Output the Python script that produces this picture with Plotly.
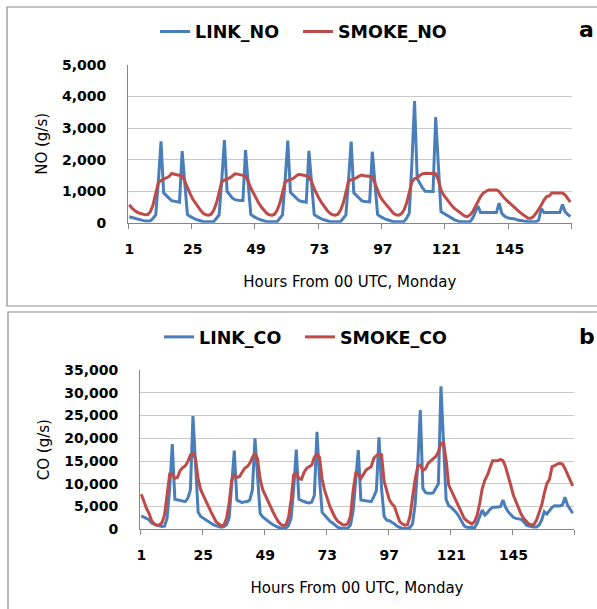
import plotly.graph_objects as go

# hours 1..168 (x categories)
HOURS = list(range(1, 169))
X_TICK_VALS = [1, 25, 49, 73, 97, 121, 145]
X_TICK_TEXT = ["1", "25", "49", "73", "97", "121", "145"]

LINK_NO = [
    190, 165, 140, 120, 85, 60, 50, 50, 60, 140, 250, 1300, 2580, 950, 850, 780, 700, 680, 660, 650, 2270, 1250, 260, 200,
    150, 110, 85, 50, 30, 30, 30, 30, 40, 140, 250, 1350, 2620, 1000, 890, 780, 730, 710, 700, 700, 2300, 1250, 260, 200,
    150, 110, 85, 50, 30, 30, 30, 30, 40, 140, 250, 1350, 2600, 960, 880, 780, 720, 680, 660, 650, 2280, 1250, 260, 200,
    150, 110, 85, 50, 30, 30, 30, 30, 40, 140, 250, 1350, 2570, 950, 860, 770, 700, 670, 660, 660, 2250, 1250, 260, 200,
    150, 110, 85, 50, 30, 30, 30, 30, 40, 140, 300, 1900, 3860, 1400, 1250, 1100, 1000, 990, 990, 990, 3350, 1800, 350, 300,
    245, 190, 140, 100, 65, 30, 30, 30, 30, 30, 140, 330, 530, 320, 320, 320, 320, 320, 320, 320, 620, 300, 210, 160,
    140, 140, 120, 85, 70, 55, 30, 30, 30, 30, 30, 85, 450, 320, 320, 320, 320, 320, 320, 320, 580, 350, 260, 190,
]

SMOKE_NO = [
    570, 460, 390, 330, 300, 270, 250, 260, 355, 570, 890, 1270, 1340, 1380, 1400, 1460, 1560, 1540, 1520, 1500, 1480, 1320, 1100, 925,
    750, 620, 495, 390, 300, 250, 240, 270, 400, 620, 950, 1290, 1350, 1380, 1420, 1480, 1550, 1540, 1530, 1500, 1470, 1320, 1100, 925,
    750, 620, 495, 390, 300, 250, 240, 270, 400, 620, 950, 1290, 1340, 1370, 1400, 1470, 1530, 1520, 1510, 1490, 1460, 1300, 1080, 900,
    740, 610, 490, 380, 300, 250, 240, 270, 400, 620, 950, 1320, 1360, 1390, 1420, 1480, 1510, 1490, 1480, 1480, 1460, 1250, 1000, 825,
    700, 600, 480, 380, 300, 250, 240, 280, 400, 620, 1000, 1300, 1400, 1420, 1500, 1550, 1570, 1570, 1560, 1550, 1550, 1360, 1040, 880,
    760, 640, 550, 460, 390, 320, 260, 210, 190, 245, 350, 510, 720, 830, 940, 990, 1040, 1040, 1040, 1040, 990, 880, 780, 700,
    620, 540, 460, 390, 320, 260, 210, 140, 140, 190, 300, 425, 560, 720, 830, 850, 950, 940, 940, 950, 940, 880, 745, 650,
]

LINK_CO = [
    2930, 2700, 2450, 2100, 1400, 1100, 900, 750, 600, 700, 2500, 9000, 18700, 6600, 6440, 6300, 6150, 6080, 6800, 8640, 24900, 14000, 3800, 2800,
    2400, 2000, 1680, 1300, 950, 750, 590, 440, 590, 1000, 2500, 9500, 17300, 6440, 6080, 5860, 6080, 6080, 6440, 8640, 20000, 11000, 3500, 2700,
    2200, 1800, 1400, 1000, 700, 450, 300, 250, 300, 800, 2500, 9000, 17500, 6600, 6300, 6100, 5900, 5800, 6000, 7500, 21400, 11000, 3700, 3000,
    2300, 1800, 1400, 900, 450, 300, 200, 200, 300, 1000, 4000, 10000, 17400, 6440, 6350, 6290, 6200, 6070, 7170, 8500, 20200, 9000, 2800, 2000,
    1900, 1600, 1200, 700, 400, 200, 200, 200, 400, 1200, 5500, 14000, 26200, 9000, 8100, 7900, 7900, 8000, 9000, 10000, 31400, 18000, 6500, 5200,
    4820, 4240, 3650, 2770, 1680, 725, 430, 360, 360, 360, 1310, 2770, 4240, 3140, 3650, 4380, 4820, 4820, 4820, 4970, 6430, 4820, 3870, 3140,
    2630, 2400, 2260, 2190, 1680, 940, 725, 580, 500, 500, 940, 2040, 3870, 3360, 4240, 4820, 5190, 5190, 5120, 5340, 7020, 5340, 4380, 3510,
]

SMOKE_CO = [
    7690, 6080, 4610, 3510, 1900, 1170, 880, 950, 1460, 3150, 7170, 12150, 12150, 11200, 11420, 12880, 13540, 13900, 14860, 16320, 16700, 15500, 11000, 8700,
    7470, 6370, 5050, 3810, 2710, 1610, 1170, 730, 950, 2420, 5710, 10830, 11930, 11420, 11570, 12660, 13400, 13760, 14490, 15810, 16690, 15500, 11000, 8700,
    7400, 6200, 5000, 3800, 2700, 1700, 1100, 800, 1000, 2600, 6500, 12000, 12300, 11200, 11000, 12500, 13400, 13700, 14100, 15900, 16500, 15800, 11000, 8500,
    6500, 5000, 3800, 2600, 1800, 1300, 1000, 950, 1300, 3000, 8500, 12300, 12100, 11200, 12000, 13000, 13400, 13760, 15600, 16200, 16540, 16400, 10500, 8500,
    6500, 5600, 5000, 3300, 1700, 1200, 900, 1000, 2800, 7000, 11000, 13800, 14100, 12900, 13300, 14500, 15000, 15500, 16000, 17000, 18900, 19000, 15200, 9700,
    8630, 7310, 6070, 4820, 3510, 2400, 1890, 1460, 1160, 1680, 3140, 5700, 9000, 10820, 11920, 13500, 15070, 15070, 15070, 15360, 15070, 13750, 11930, 9730,
    7530, 6070, 4600, 3360, 2400, 1680, 1160, 940, 1090, 2040, 3510, 5340, 7900, 10100, 10970, 13750, 13970, 14340, 14490, 14340, 13390, 11930, 10820, 9510,
]

BLUE = "#4a7ebb"
RED = "#be4b48"
W, H = 597, 609
FONT = "DejaVu Sans"


def px(x):
    return x / W


def py(y):
    return 1 - y / H


fig = go.Figure()
fig.add_trace(go.Scatter(x=HOURS, y=LINK_NO, name="LINK_NO", mode="lines",
                         line=dict(color=BLUE, width=3), xaxis="x", yaxis="y", legend="legend"))
fig.add_trace(go.Scatter(x=HOURS, y=SMOKE_NO, name="SMOKE_NO", mode="lines",
                         line=dict(color=RED, width=3), xaxis="x", yaxis="y", legend="legend2"))
fig.add_trace(go.Scatter(x=HOURS, y=LINK_CO, name="LINK_CO", mode="lines",
                         line=dict(color=BLUE, width=3), xaxis="x2", yaxis="y2", legend="legend3"))
fig.add_trace(go.Scatter(x=HOURS, y=SMOKE_CO, name="SMOKE_CO", mode="lines",
                         line=dict(color=RED, width=3), xaxis="x2", yaxis="y2", legend="legend4"))

tickfont = dict(family=FONT, size=14, color="#000000", weight="bold")
titlefont = dict(family=FONT, size=15, color="#000000")
legfont = dict(family=FONT, size=17.5, color="#000000", weight="bold")

xcommon = dict(
    range=[0.5, 168.5], tickmode="array", tickvals=X_TICK_VALS, ticktext=X_TICK_TEXT,
    ticks="", showline=True, linecolor="#868686", linewidth=1, showgrid=False,
    zeroline=False, tickfont=tickfont, ticklabelstandoff=13, automargin=False,
    minor=dict(tickmode="linear", tick0=0.5, dtick=24, ticks="outside", ticklen=5,
               tickcolor="#868686", tickwidth=1, showgrid=False),
    title=dict(text="Hours From 00 UTC, Monday", font=titlefont, standoff=20),
)
ycommon = dict(
    showline=True, linecolor="#868686", linewidth=1, showgrid=True, gridcolor="#c9c9c9",
    gridwidth=1, zeroline=False, ticks="", tickformat=",d", tickfont=tickfont,
    ticklabelstandoff=18, automargin=False,
)


def leg(x, y):
    return dict(orientation="h", x=px(x), xanchor="left", y=py(y), yanchor="middle",
                font=legfont, bgcolor="rgba(0,0,0,0)", itemclick=False, itemdoubleclick=False)


fig.update_layout(
    width=W, height=H, autosize=False,
    margin=dict(l=0, r=0, t=0, b=0, pad=0),
    paper_bgcolor="white", plot_bgcolor="white",
    font=dict(family=FONT, color="#000000"),
    xaxis=dict(domain=[px(128), px(571.7)], anchor="y", **xcommon),
    yaxis=dict(domain=[py(222.7), py(65)], anchor="x", range=[0, 5000], dtick=1000,
               title=dict(text="NO (g/s)", font=titlefont, standoff=10), **ycommon),
    xaxis2=dict(domain=[px(140), px(574)], anchor="y2", **xcommon),
    yaxis2=dict(domain=[py(529.3), py(370)], anchor="x2", range=[0, 35000], dtick=5000,
                title=dict(text="CO (g/s)", font=titlefont, standoff=10), **ycommon),
    legend=leg(155, 31.5),
    legend2=leg(298, 31.5),
    legend3=leg(159, 337),
    legend4=leg(300, 337),
    showlegend=True,
)

# panel frames
fig.add_shape(type="rect", xref="paper", yref="paper", x0=px(7), x1=px(610), y0=py(306), y1=py(7),
              line=dict(color="#8c8c8c", width=1.2), fillcolor="rgba(0,0,0,0)", layer="below")
fig.add_shape(type="rect", xref="paper", yref="paper", x0=px(8), x1=px(610), y0=py(620), y1=py(312),
              line=dict(color="#8c8c8c", width=1.2), fillcolor="rgba(0,0,0,0)", layer="below")

# panel letters
fig.add_annotation(text="a", xref="paper", yref="paper", x=px(586), y=py(29), showarrow=False,
                   font=dict(family=FONT, size=22, color="#000000", weight="bold"),
                   xanchor="center", yanchor="middle")
fig.add_annotation(text="b", xref="paper", yref="paper", x=px(587), y=py(336), showarrow=False,
                   font=dict(family=FONT, size=22, color="#000000", weight="bold"),
                   xanchor="center", yanchor="middle")

fig.write_html("out.html", config={"displayModeBar": False, "staticPlot": True},
               post_script="document.body.style.margin='0';document.body.style.overflow='hidden';")
